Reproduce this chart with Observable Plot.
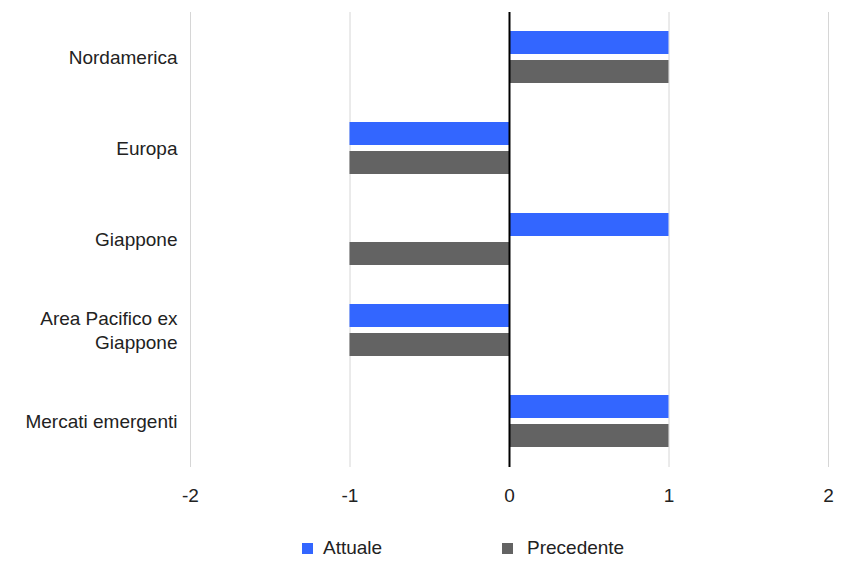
<!DOCTYPE html>
<html>
<head>
<meta charset="utf-8">
<script src="https://cdn.jsdelivr.net/npm/d3@7"></script>
<script src="https://cdn.jsdelivr.net/npm/@observablehq/plot@0.6"></script>
<style>
  body { margin: 0; background: #fff; font-family: "Liberation Sans", Arial, Helvetica, sans-serif; }
  #wrap { position: relative; width: 850px; }
  #legend { position: relative; width: 850px; height: 36px; font-size: 19px; color: #222; }
  .item { position: absolute; top: 0; height: 36px; display: flex; align-items: center; }
  .sw { width: 11px; height: 11px; margin-right: 10px; }
</style>
</head>
<body>
<div id="wrap"></div>
<script>
const regions = ["Nordamerica", "Europa", "Giappone", "Area Pacifico ex\nGiappone", "Mercati emergenti"];
const series = ["Attuale", "Precedente"];
const attuale = [1, -1, 1, -1, 1];
const precedente = [1, -1, -1, -1, 1];
const xTicks = [-2, -1, 0, 1, 2];
const colors = ["#3366ff", "#636363"];

const data = [];
regions.forEach((r, i) => {
  data.push({region: r, series: "Attuale", value: attuale[i]});
  data.push({region: r, series: "Precedente", value: precedente[i]});
});

const chart = Plot.plot({
  width: 850,
  height: 530,
  marginLeft: 190,
  marginRight: 22,
  marginTop: 11,
  marginBottom: 62,
  style: {fontFamily: "'Liberation Sans', Arial, Helvetica, sans-serif", fontSize: "19px", color: "#222"},
  x: {domain: [-2, 2], ticks: xTicks, label: null},
  y: {domain: series, axis: null, paddingInner: 0.2, paddingOuter: 0.62},
  fy: {domain: regions, padding: 0, label: null},
  color: {domain: series, range: colors},
  marks: [
    Plot.ruleX(xTicks.filter(d => d !== 0), {stroke: "#d6d6d6", strokeWidth: 1}),
    Plot.barX(data, {x: "value", y: "series", fy: "region", fill: "series"}),
    Plot.ruleX([0], {stroke: "#000", strokeWidth: 2}),
    Plot.axisX({anchor: "bottom", ticks: xTicks, tickFormat: d => `${d}`, tickSize: 0, tickPadding: 21, fontSize: 19, label: null}),
    Plot.axisFy({anchor: "left", tickSize: 0, tickPadding: 13, fontSize: 19, lineHeight: 1.26, dy: -2, label: null})
  ]
});
document.getElementById("wrap").appendChild(chart);

const legend = document.createElement("div");
legend.id = "legend";
const pos = [302, 502];
series.forEach((s, i) => {
  const it = document.createElement("div");
  it.className = "item";
  it.style.left = pos[i] + "px";
  const sw = document.createElement("div");
  sw.className = "sw";
  sw.style.background = colors[i];
  if (i === 1) sw.style.marginRight = "14px";
  it.appendChild(sw);
  const t = document.createElement("span");
  t.textContent = s;
  it.appendChild(t);
  legend.appendChild(it);
});
document.getElementById("wrap").appendChild(legend);
</script>
</body>
</html>
